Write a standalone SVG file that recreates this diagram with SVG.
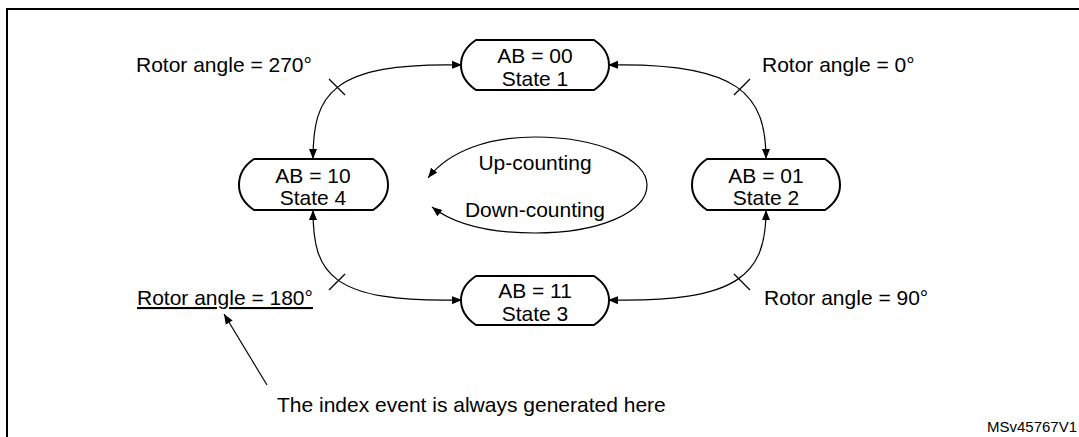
<svg xmlns="http://www.w3.org/2000/svg" width="1079" height="437" viewBox="0 0 1079 437">
<style>
text{font-family:"Liberation Sans",Arial,sans-serif;font-size:21px;fill:#000}
.n{fill:#fff;stroke:#000;stroke-width:2}
.c{fill:none;stroke:#000;stroke-width:1.2}
.t{stroke:#000;stroke-width:1.2}
.m{text-anchor:middle}
</style>
<defs>
<marker id="a" viewBox="0 0 10 10" refX="10" refY="5" markerWidth="10" markerHeight="10" orient="auto-start-reverse" markerUnits="userSpaceOnUse"><path d="M0,1L10,5L0,9z"/></marker>
</defs>
<rect width="1079" height="437" fill="#fff"/>
<path d="M7,437V9H1079" fill="none" stroke="#000" stroke-width="2"/>
<g id="connectors">
<path class="c" d="M462,65C330,62 313,95 313,159" marker-start="url(#a)" marker-end="url(#a)"/>
<path class="c" d="M608,65C740,62 766,95 766,159" marker-start="url(#a)" marker-end="url(#a)"/>
<path class="c" d="M313,210C313,274 330,303 462,300" marker-start="url(#a)" marker-end="url(#a)"/>
<path class="c" d="M766,210C766,274 740,303 608,300" marker-start="url(#a)" marker-end="url(#a)"/>
<line class="t" x1="329" y1="79" x2="345" y2="95"/>
<line class="t" x1="734" y1="95" x2="750" y2="79"/>
<line class="t" x1="329" y1="290" x2="345" y2="274"/>
<line class="t" x1="734" y1="274" x2="750" y2="290"/>
<path class="c" d="M428,178C450,150 490,137 535,137C600,137 647,160 647,185C647,212 600,233 535,233C490,233 455,225 432,207" marker-start="url(#a)" marker-end="url(#a)"/>
<line class="c" x1="267" y1="385" x2="224" y2="314" marker-end="url(#a)"/>
</g>
<g id="state1"><path class="n" d="M476,40H594C606,48 609,58 609,65C609,72 606,82 594,90H476C464,82 461,72 461,65C461,58 464,48 476,40z"/><text class="m" x="535" y="63">AB = 00</text><text class="m" x="535" y="86">State 1</text></g>
<g id="state4"><path class="n" d="M254,159H373C385,167 388,177 388,185C388,193 385,202 373,210H254C242,202 239,193 239,185C239,177 242,167 254,159z"/><text class="m" x="313" y="183">AB = 10</text><text class="m" x="313" y="205">State 4</text></g>
<g id="state2"><path class="n" d="M707,159H825C837,167 840,177 840,185C840,193 837,202 825,210H707C695,202 692,193 692,185C692,177 695,167 707,159z"/><text class="m" x="766" y="183">AB = 01</text><text class="m" x="766" y="205">State 2</text></g>
<g id="state3"><path class="n" d="M476,276H594C606,284 609,293 609,300C609,308 606,317 594,325H476C464,317 461,308 461,300C461,293 464,284 476,276z"/><text class="m" x="535" y="298">AB = 11</text><text class="m" x="535" y="321">State 3</text></g>
<g id="labels">
<text class="m" x="535" y="170">Up-counting</text>
<text class="m" x="535" y="217">Down-counting</text>
<text x="136" y="72">Rotor angle = 270°</text>
<text x="762" y="72">Rotor angle = 0°</text>
<text x="137" y="305" text-decoration="underline">Rotor angle = 180°</text>
<text x="764" y="305">Rotor angle = 90°</text>
<text x="277" y="412">The index event is always generated here</text>
<text x="987" y="432" style="font-size:15px">MSv45767V1</text>
</g>
</svg>
